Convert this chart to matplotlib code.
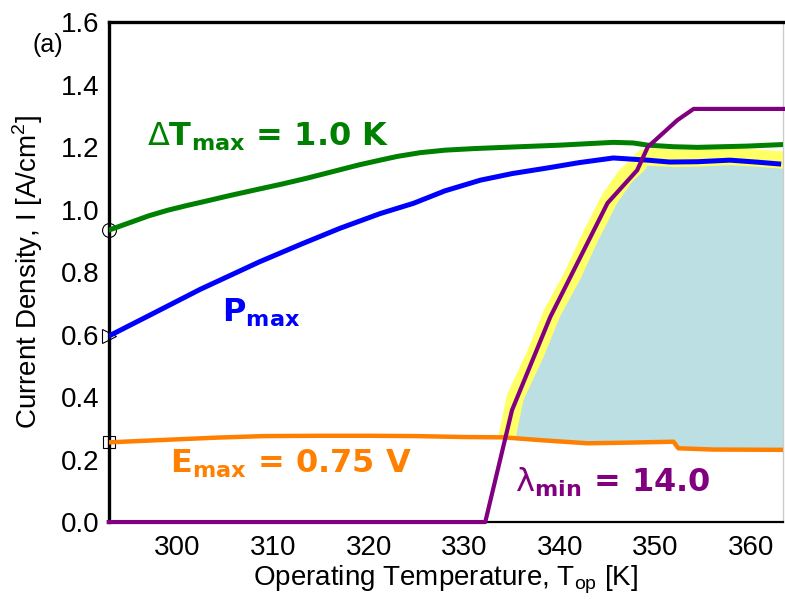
import numpy as np
import matplotlib
matplotlib.use("Agg")
import matplotlib.pyplot as plt
from matplotlib.patches import Polygon

# ----------------------------------------
# operating window: current density vs temperature
# ----------------------------------------

plt.rcParams['font.family'] = ['Liberation Sans', 'DejaVu Sans']
plt.rcParams['mathtext.fontset'] = 'custom'
plt.rcParams['mathtext.rm'] = 'Liberation Sans'
plt.rcParams['mathtext.sf'] = 'DejaVu Sans'
plt.rcParams['mathtext.bf'] = 'DejaVu Sans:bold'

T_MIN, T_MAX = 292.8, 363.4

# dT_max = 1.0 K (green)
temp_dT = [292.8, 295.0, 297.0, 299.0, 301.0, 303.0, 305.5, 308.6, 311.0, 313.5, 316.7,
           319.0, 321.2, 323.0, 325.4, 328.0, 331.0, 335.0, 340.0, 345.6, 347.7, 349.2,
           351.9, 354.4, 359.6, 363.4]
curr_dT = [0.934, 0.958, 0.980, 0.998, 1.013, 1.027, 1.045, 1.066, 1.082, 1.100, 1.125,
           1.143, 1.158, 1.170, 1.182, 1.190, 1.195, 1.200, 1.206, 1.215, 1.213, 1.206,
           1.201, 1.199, 1.203, 1.208]

# P_max (blue)
temp_P = [292.8, 297.1, 302.4, 308.6, 313.0, 317.0, 321.2, 324.7, 328.0, 331.7, 335.0,
          338.7, 342.0, 345.6, 349.2, 351.5, 354.4, 357.8, 360.5, 362.9]
curr_P = [0.595, 0.662, 0.745, 0.833, 0.890, 0.940, 0.987, 1.020, 1.060, 1.094, 1.115,
          1.133, 1.150, 1.165, 1.158, 1.152, 1.153, 1.158, 1.152, 1.146]

# E_max = 0.75 V (orange)
temp_E = [292.8, 298.0, 304.0, 309.0, 315.0, 320.0, 325.0, 330.0, 334.1, 338.0,
          342.9, 347.0, 351.9, 352.4, 356.0, 363.4]
curr_E = [0.255, 0.262, 0.270, 0.275, 0.276, 0.276, 0.275, 0.272, 0.271, 0.262,
          0.252, 0.254, 0.257, 0.236, 0.232, 0.231]

# lambda_min = 14.0 (purple)
temp_lam = [292.8, 332.2, 335.0, 339.0, 345.0, 348.1, 349.2, 352.3, 354.0, 363.4]
curr_lam = [0.0, 0.0, 0.358, 0.656, 1.021, 1.126, 1.200, 1.286, 1.322, 1.322]

# feasible region, left and top boundary
region_T = [335.4, 336.2, 338.3, 340.0, 342.1, 344.0, 346.0, 347.6, 348.8, 349.2,
            352.0, 354.4, 357.8, 360.5, 363.4]
region_I = [0.270, 0.390, 0.528, 0.656, 0.774, 0.900, 1.020, 1.090, 1.123, 1.140,
            1.136, 1.137, 1.142, 1.137, 1.130]

fig = plt.figure(figsize=(7.85, 6.12), dpi=100)
ax = fig.add_axes([0.1385, 0.147, 0.998 - 0.1385, 0.964 - 0.147])

# region: yellow halo + light blue fill
bottom_T = [t for t in temp_E if t > region_T[0]]
bottom_I = [i for t, i in zip(temp_E, curr_E) if t > region_T[0]]
poly_T = region_T + [T_MAX] + bottom_T[::-1]
poly_I = region_I + [curr_E[-1]] + bottom_I[::-1]

halo, = ax.plot(region_T, region_I, color='#FFFF66', lw=25, solid_joinstyle='round',
                solid_capstyle='round', zorder=1.4)
above = Polygon(list(zip(temp_E + [T_MAX, T_MIN], curr_E + [1.6, 1.6])),
                closed=True, transform=ax.transData, facecolor='none', edgecolor='none')
ax.add_patch(above)
halo.set_clip_path(above)
ax.fill(poly_T, poly_I, color='#BBDFE3', lw=0, zorder=1.5)

# start markers on the left spine
ax.plot([T_MIN], [curr_dT[0]], marker='o', ms=10, mfc='white', mec='black', mew=0.8,
        clip_on=False, zorder=1.2)
ax.plot([T_MIN], [curr_P[0]], marker='>', ms=10, mfc='white', mec='black', mew=0.8,
        clip_on=False, zorder=1.2)
ax.plot([T_MIN], [curr_E[0]], marker='s', ms=9, mfc='white', mec='black', mew=0.8,
        clip_on=False, zorder=1.2)

ax.plot(temp_dT, curr_dT, color='#008000', lw=3.6, zorder=3)
ax.plot(temp_P, curr_P, color='#0000FF', lw=3.6, zorder=3)
ax.plot(temp_E, curr_E, color='#FF8000', lw=3.2, zorder=3)
ax.plot(temp_lam, curr_lam, color='#800080', lw=3.0, zorder=3.5, clip_on=False)

# labels on curves
ax.text(296.8, 1.206, r'$\mathsf{Δ}\mathbf{T_{max}}$ = 1.0 K', color='#008000',
        fontsize=23, fontweight='bold', family='DejaVu Sans', va='baseline', ha='left')
ax.text(304.7, 0.640, r'$\mathbf{P_{max}}$', color='#0000FF',
        fontsize=23, fontweight='bold', family='DejaVu Sans', va='baseline', ha='left')
ax.text(299.2, 0.157, r'$\mathbf{E_{max}}$ = 0.75 V', color='#FF8000',
        fontsize=23, fontweight='bold', family='DejaVu Sans', va='baseline', ha='left')
ax.text(335.3, 0.096, r'$\mathsf{λ}_{\mathbf{min}}$ = 14.0', color='#800080',
        fontsize=23, fontweight='bold', family='DejaVu Sans', va='baseline', ha='left')

ax.set_xlim(T_MIN, T_MAX)
ax.set_ylim(0, 1.6)
ax.set_xticks([300, 310, 320, 330, 340, 350, 360])
ax.set_yticks(np.arange(0, 1.61, 0.2))
ax.set_yticklabels(['0.0', '0.2', '0.4', '0.6', '0.8', '1.0', '1.2', '1.4', '1.6'])
ax.tick_params(axis='both', length=0, labelsize=20)
ax.tick_params(axis='x', pad=9)
ax.tick_params(axis='y', pad=7)

ax.set_xlabel(r'Operating Temperature, T$_{\mathrm{op}}$ [K]', fontsize=20, labelpad=2)
ax.set_ylabel(r'Current Density, I [A/cm$^{2}$]', fontsize=20, labelpad=11)

for side in ['left', 'top']:
    ax.spines[side].set_linewidth(2.4)
ax.spines['bottom'].set_linewidth(1.6)
ax.spines['right'].set_linewidth(1.0)
ax.spines['right'].set_color('#CCCCCC')

fig.text(33 / 785, 1 - 52 / 612, '(a)', fontsize=18, ha='left', va='baseline')

fig.savefig('out.png', dpi=100)
